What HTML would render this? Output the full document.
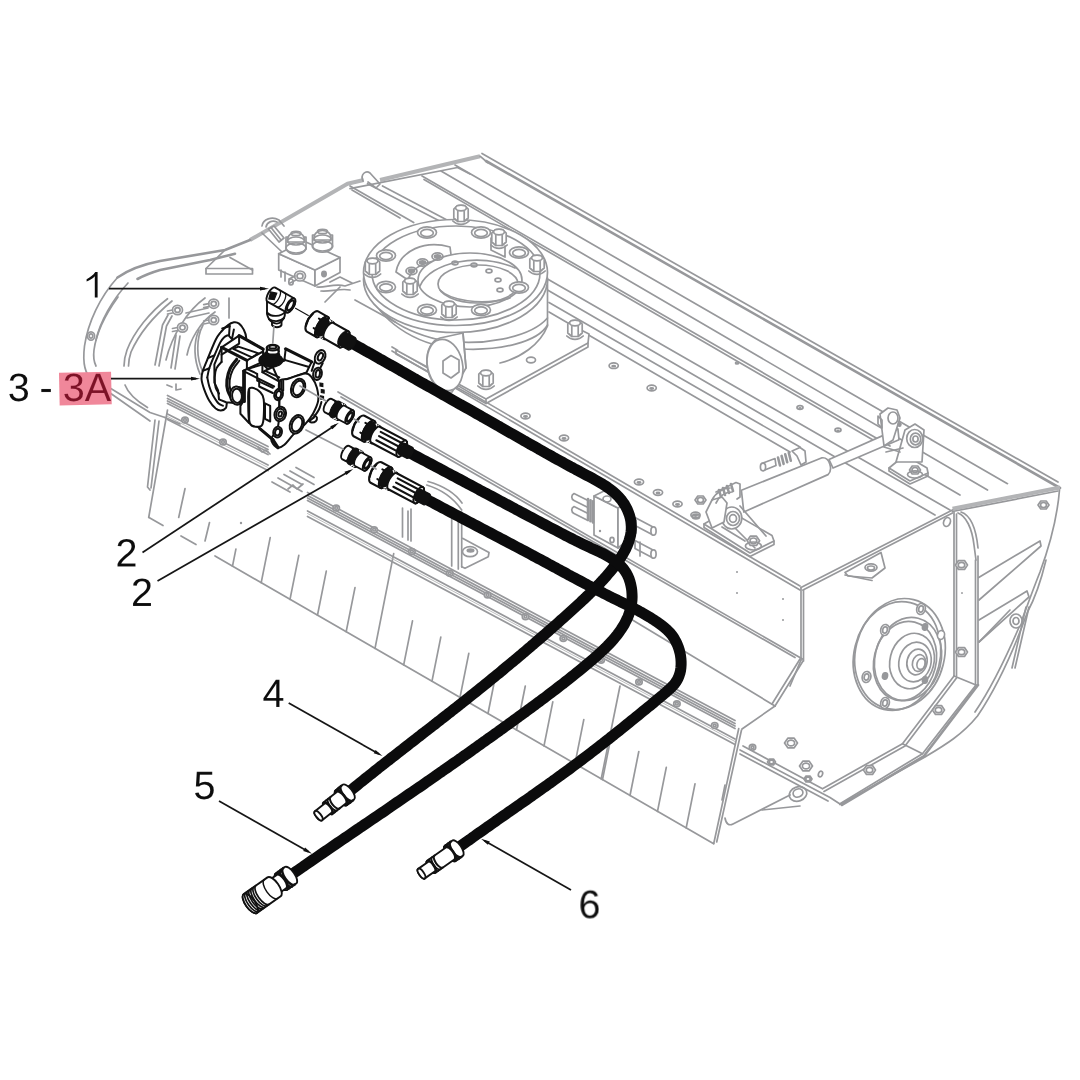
<!DOCTYPE html>
<html><head><meta charset="utf-8">
<style>
html,body{margin:0;padding:0;background:#fff;}
body{width:1080px;height:1080px;overflow:hidden;font-family:"Liberation Sans",sans-serif;}
svg{display:block;filter:blur(0.45px)}
.g{fill:none;stroke:#97989b;stroke-width:1.7;stroke-linecap:round;stroke-linejoin:round}
.g2{fill:none;stroke:#97989b;stroke-width:2.6;stroke-linecap:round;stroke-linejoin:round}
.g4{fill:none;stroke:#b3b4b6;stroke-width:4;stroke-linecap:butt;stroke-linejoin:round}
.gt{fill:none;stroke:#b4b5b7;stroke-width:0.9;stroke-linecap:round;stroke-linejoin:round}
.gw{fill:#fff;stroke:#97989b;stroke-width:1.7;stroke-linejoin:round}
.gf{fill:#97989b;stroke:none}
.k{fill:none;stroke:#111;stroke-width:1.7;stroke-linecap:round;stroke-linejoin:round}
.kw{fill:#fff;stroke:#111;stroke-width:1.7;stroke-linejoin:round}
.kf{fill:#111;stroke:#111;stroke-width:1.2}
.kwl{fill:none;stroke:#fff;stroke-width:1.2}
.k3{fill:none;stroke:#111;stroke-width:2.6;stroke-linecap:round}
.h{fill:none;stroke:#0b0b0c;stroke-width:11;stroke-linecap:butt;stroke-linejoin:round}
.l{fill:none;stroke:#161616;stroke-width:1.75}
text{font-family:"Liberation Sans",sans-serif;font-size:39.5px;fill:#0c0c0c;stroke:#fff;stroke-width:0.7px}
#labels{opacity:0.999}
#pump .k,#pump .kw{stroke-width:2}
#pump .k3{stroke-width:3.2}
#fittings .k,#fittings .kw{stroke-width:1.9}
</style></head><body>
<svg width="1080" height="1080" viewBox="0 0 1080 1080">
<rect width="1080" height="1080" fill="#fff"/>
<!-- 10_machine_a.svg -->
<g id="machA">
<path class="g" d="M482.0,153.5 L1058.0,482.0"/>
<path class="g2" d="M486.0,161.0 L1060.0,488.0"/>
<path class="g" d="M455.0,165.0 L1007.5,483.7"/>
<path class="g" d="M441.0,171.0 L987.5,490.0"/>
<path class="g" d="M422.0,176.0 L890.0,446.0"/>
<path class="g" d="M424.0,179.5 L880.0,444.0"/>
<path class="g" d="M905.0,463.0 L960.0,495.0"/>
<path class="g4" d="M250.0,240.0 L347.5,183.7 L363.7,180.0"/>
<path class="g4" d="M380.0,180.0 L480.0,156.2"/>
<path class="g" d="M350.0,188.7 L457.5,167.5 L470.0,174.0"/>
<path class="g" d="M480.0,156.2 L487.5,162.5"/>
<path class="g" d="M363,181 C360,174 366,170 370,173 L380,184 L376,188 L368,182"/>
<path class="g" d="M350.0,186.0 L413.7,222.5"/>
<path class="g" d="M367.5,183.7 L442.5,222.5"/>
<path class="g" d="M382.5,186.0 L447.0,220.0"/>
<path class="g" d="M352.0,190.0 L400.0,218.0"/>
<path class="g" d="M547.5,279.0 L950.0,510.0"/>
<path class="g" d="M547.5,290.0 L935.0,515.0"/>
<path class="g" d="M549.0,302.5 L800.0,447.0"/>
<path class="g" d="M549.0,312.0 L790.0,452.0"/>
<path class="g4" d="M952.5,508.7 L1060.0,487.5"/>
<path class="g" d="M952.5,511.5 L1058.0,491.0"/>
<path class="g" d="M1059.5,490 C1057,520 1050,545 1040,572 C1032,592 1028,604 1020,625"/>
<path class="g" d="M952.5,510.0 L801.0,587.5"/>
<path class="g" d="M952.5,513.0 L803.0,590.0"/>
<path class="g" d="M392.0,347.0 L800.0,586.0"/>
<path class="g" d="M392.0,351.0 L800.0,590.0"/>
<path class="g" d="M338.0,392.0 L802.5,659.0"/>
<path class="g" d="M341.0,397.0 L795.0,657.5"/>
<path class="g" d="M801.0,587.5 L801.0,660.0"/>
<path class="g" d="M803.5,590.0 L803.5,661.0"/>
<path class="g" d="M803.0,661.0 L775.0,706.0"/>
<path class="g" d="M800.0,659.0 L772.0,704.0"/>
<path class="g" d="M632.5,620.0 L775.0,706.0"/>
<path class="g" d="M742.0,729.0 L775.0,706.0"/>
</g>

<!-- 11_machine_b.svg -->
<g id="machB">
<path class="g" d="M954.0,512.0 L954.0,676.0"/>
<path class="g" d="M956.5,514.0 L956.5,676.0"/>
<path class="g" d="M975.5,560.0 L975.5,685.0"/>
<path class="g" d="M978.0,556.0 L978.0,685.0"/>
<path class="g" d="M958,513 C966,516 972,528 974,545 L976,560"/>
<path class="g" d="M961,512 C970,515 976,528 978,548"/>
<path class="g" d="M954.0,676.0 L902.5,743.7 L822.5,788.7"/>
<path class="g" d="M956.5,678.0 L905.0,746.0 L824.0,791.5"/>
<path class="g" d="M976.0,685.0 L922.5,753.7 L840.0,803.7"/>
<path class="g2" d="M978,685 L924,756 L842,805"/>
<path class="g" d="M954.0,676.0 L976.0,685.0"/>
<path class="g" d="M902.5,743.7 L922.5,753.7"/>
<path class="g" d="M1046,560 C1040,585 1034,600 1027.5,612 C1012,655 995,690 977.5,716 C962,735 945,745 925,757 L840,804.5"/>
<path class="g" d="M1020,625 C1005,660 990,690 975,712"/>
<path class="g" d="M978.7,577.5 L1040.0,541.0 L1041.0,546.0 L979.0,600.0"/>
<path class="g" d="M979.0,620.0 L1027.0,591.0 L1029.0,597.0 L979.0,642.0"/>
<path class="g" d="M979.0,642.0 L1010.0,610.0"/>
<path class="gw" d="M1049.0,505.0 L1046.2,509.0 L1040.8,509.0 L1038.0,505.0 L1040.8,501.0 L1046.2,501.0Z"/>
<ellipse class="g" cx="1043.5" cy="505.0" rx="3.0" ry="2.5"/>
<path class="gw" d="M962.1,593.0 L962.0,593.1 L962.0,593.1 L961.9,593.0 L962.0,592.9 L962.0,592.9Z"/>
<ellipse class="g" cx="962.0" cy="593.0" rx="0.1" ry="0.0"/>
<path class="gw" d="M967.5,565.0 L964.5,569.4 L958.5,569.4 L955.5,565.0 L958.5,560.6 L964.5,560.6Z"/>
<ellipse class="g" cx="961.5" cy="565.0" rx="3.3" ry="2.7"/>
<path class="gw" d="M967.5,652.0 L964.5,656.4 L958.5,656.4 L955.5,652.0 L958.5,647.6 L964.5,647.6Z"/>
<ellipse class="g" cx="961.5" cy="652.0" rx="3.3" ry="2.7"/>
<path class="gw" d="M944.5,710.0 L941.5,714.4 L935.5,714.4 L932.5,710.0 L935.5,705.6 L941.5,705.6Z"/>
<ellipse class="g" cx="938.5" cy="710.0" rx="3.3" ry="2.7"/>
<path class="gw" d="M875.5,770.0 L872.5,774.4 L866.5,774.4 L863.5,770.0 L866.5,765.6 L872.5,765.6Z"/>
<ellipse class="g" cx="869.5" cy="770.0" rx="3.3" ry="2.7"/>
<ellipse class="g" cx="947.0" cy="522.0" rx="3.3" ry="4.6" transform="rotate(20.0 947.0 522.0)"/>
<ellipse class="gw" cx="1016.0" cy="621.0" rx="6.0" ry="7.0"/>
<ellipse class="g" cx="1016.0" cy="621.0" rx="3.0" ry="3.5"/>
<path class="g" d="M1026.0,607.0 L1012.0,668.0"/>
<path class="g" d="M1029.0,607.0 L1015.0,668.0"/>
<ellipse class="gw" cx="900.0" cy="654.0" rx="44.5" ry="56.0" transform="rotate(14.0 900.0 654.0)"/>
<ellipse class="g" cx="897.0" cy="656.0" rx="43.0" ry="55.0" transform="rotate(14.0 897.0 656.0)"/>
<ellipse class="g" cx="908.0" cy="659.0" rx="33.0" ry="42.0" transform="rotate(14.0 908.0 659.0)"/>
<ellipse class="g" cx="905.0" cy="661.0" rx="31.0" ry="40.0" transform="rotate(14.0 905.0 661.0)"/>
<ellipse class="g" cx="912.0" cy="661.0" rx="22.0" ry="28.0" transform="rotate(14.0 912.0 661.0)"/>
<ellipse class="g" cx="915.0" cy="662.0" rx="16.0" ry="20.0" transform="rotate(14.0 915.0 662.0)"/>
<ellipse class="g" cx="917.0" cy="662.0" rx="10.0" ry="13.0" transform="rotate(14.0 917.0 662.0)"/>
<ellipse class="g" cx="919.0" cy="663.0" rx="6.5" ry="8.5" transform="rotate(14.0 919.0 663.0)"/>
<ellipse class="g" cx="921.0" cy="664.0" rx="4.0" ry="5.5" transform="rotate(14.0 921.0 664.0)"/>
<ellipse class="gw" cx="921.0" cy="609.0" rx="4.3" ry="5.5" transform="rotate(14.0 921.0 609.0)"/>
<ellipse class="g" cx="921.0" cy="609.0" rx="2.3" ry="3.2" transform="rotate(14.0 921.0 609.0)"/>
<ellipse class="gw" cx="885.0" cy="630.0" rx="4.3" ry="5.5" transform="rotate(14.0 885.0 630.0)"/>
<ellipse class="g" cx="885.0" cy="630.0" rx="2.3" ry="3.2" transform="rotate(14.0 885.0 630.0)"/>
<ellipse class="gw" cx="866.5" cy="677.0" rx="4.3" ry="5.5" transform="rotate(14.0 866.5 677.0)"/>
<ellipse class="g" cx="866.5" cy="677.0" rx="2.3" ry="3.2" transform="rotate(14.0 866.5 677.0)"/>
<ellipse class="gw" cx="885.0" cy="703.0" rx="4.3" ry="5.5" transform="rotate(14.0 885.0 703.0)"/>
<ellipse class="g" cx="885.0" cy="703.0" rx="2.3" ry="3.2" transform="rotate(14.0 885.0 703.0)"/>
<ellipse class="gf" cx="925.0" cy="627.0" rx="3.3" ry="4.0" transform="rotate(14.0 925.0 627.0)"/>
<ellipse class="gf" cx="885.0" cy="676.0" rx="3.3" ry="4.0" transform="rotate(14.0 885.0 676.0)"/>
<ellipse class="gf" cx="925.0" cy="680.0" rx="3.3" ry="4.0" transform="rotate(14.0 925.0 680.0)"/>
<ellipse class="gw" cx="941.0" cy="635.0" rx="3.5" ry="4.5" transform="rotate(14.0 941.0 635.0)"/>
<path class="g" d="M845.0,572.5 L881.0,552.5 L885.0,568.0 L872.0,578.0 L848.0,576.0Z"/>
<ellipse class="g" cx="871.0" cy="567.5" rx="6.0" ry="3.6"/>
<ellipse class="g" cx="871.0" cy="568.0" rx="3.6" ry="2.0"/>
<path class="g" d="M845.0,575.0 L872.0,580.5"/>
<path class="g" d="M801.0,660.0 L790.0,686.0"/>
<path class="gw" d="M797.5,743.0 L794.2,747.8 L787.8,747.8 L784.5,743.0 L787.8,738.2 L794.2,738.2Z"/>
<ellipse class="g" cx="791.0" cy="743.0" rx="3.6" ry="2.9"/>
<path class="gw" d="M812.5,766.0 L809.2,770.8 L802.8,770.8 L799.5,766.0 L802.8,761.2 L809.2,761.2Z"/>
<ellipse class="g" cx="806.0" cy="766.0" rx="3.6" ry="2.9"/>
<ellipse class="g" cx="820.5" cy="774.0" rx="2.0" ry="3.0" transform="rotate(20.0 820.5 774.0)"/>
<path class="g" d="M740.0,750.0 L830.0,797.5 L840.0,804.0"/>
<path class="g" d="M740.0,754.0 L828.0,801.0"/>
<path class="g" d="M743.0,746.0 L822.5,788.7"/>
<path class="gw" d="M775.5,762.0 L773.5,764.9 L769.5,764.9 L767.5,762.0 L769.5,759.1 L773.5,759.1Z"/>
<ellipse class="g" cx="771.5" cy="762.0" rx="2.2" ry="1.8"/>
<path class="gw" d="M812.0,779.0 L810.0,781.9 L806.0,781.9 L804.0,779.0 L806.0,776.1 L810.0,776.1Z"/>
<ellipse class="g" cx="808.0" cy="779.0" rx="2.2" ry="1.8"/>
<path class="g" d="M725,818 C726,824 729,826 733,824 L790,795"/>
<ellipse class="g" cx="798.0" cy="794.0" rx="9.0" ry="7.0" transform="rotate(-20.0 798.0 794.0)"/>
<ellipse class="g" cx="798.0" cy="793.0" rx="5.0" ry="4.0" transform="rotate(-20.0 798.0 793.0)"/>
<path class="g" d="M762.0,810.0 L800.0,806.0"/>
</g>

<!-- 12_machine_c.svg -->
<g id="machC">
<path class="g" d="M149.0,517.5 L163.0,525.5"/>
<path class="g" d="M181.0,536.0 L196.0,544.5"/>
<path class="g" d="M215.0,556.0 L713.7,843.7"/>
<path class="g" d="M713.7,843.7 L738.7,728.7"/>
<path class="g" d="M716.7,842.0 L741.5,730.0"/>
<path class="g" d="M722.0,800.0 L725.0,785.0"/>
<path class="g" d="M167.5,410.0 L148.7,517.5"/>
<path class="g" d="M155.0,420.0 L147.5,487.0 L150.0,490.0"/>
<path class="g" d="M159.0,421.0 L151.0,488.0"/>
<path class="g" d="M232.5,566.1 L235.9,549.1"/>
<path class="g" d="M261.2,582.7 L270.2,537.7"/>
<path class="g" d="M290.0,599.3 L298.8,555.3"/>
<path class="g" d="M317.5,615.1 L326.3,571.1"/>
<path class="g" d="M346.2,631.7 L355.0,587.7"/>
<path class="g" d="M375.0,648.3 L393.7,553.7"/>
<path class="g" d="M403.7,664.9 L412.5,620.9"/>
<path class="g" d="M432.0,681.2 L440.8,637.2"/>
<path class="g" d="M460.0,697.4 L468.8,653.4"/>
<path class="g" d="M488.0,713.5 L496.8,669.5"/>
<path class="g" d="M516.5,730.0 L525.3,686.0"/>
<path class="g" d="M544.0,745.8 L552.8,701.8"/>
<path class="g" d="M575.0,763.7 L583.8,719.7"/>
<path class="g" d="M602.5,779.6 L611.3,735.6"/>
<path class="g" d="M630.0,795.5 L638.8,751.5"/>
<path class="g" d="M657.5,811.3 L666.3,767.3"/>
<path class="g" d="M686.2,827.9 L695.0,783.9"/>
<path class="g" d="M601.2,778.8 L620.0,686.0"/>
<path class="g" d="M178.7,517.5 L185.0,488.7"/>
<path class="g" d="M205.0,541.0 L209.5,522.5"/>
<path class="g" d="M167.5,395.5 L268.0,446.5"/>
<path class="g" d="M167.5,398.5 L268.0,449.5"/>
<path class="g" d="M167.5,401.0 L268.0,452.0"/>
<path class="g" d="M167.5,403.5 L268.0,454.5"/>
<path class="g" d="M167.5,414.0 L268.0,465.0"/>
<path class="gt" d="M167.5,416.5 L268.0,467.5"/>
<path class="g" d="M167.5,419.5 L268.0,470.5"/>
<path class="g" d="M258.0,447.0 L262.0,452.0 L266.0,450.0 L270.0,454.0"/>
<path class="g" d="M307.5,492.5 L735.0,720.5"/>
<path class="g" d="M307.5,495.5 L735.0,723.5"/>
<path class="g" d="M307.5,498.0 L735.0,726.0"/>
<path class="g" d="M307.5,500.5 L735.0,728.5"/>
<path class="g" d="M307.5,511.0 L735.0,739.0"/>
<path class="gt" d="M307.5,513.5 L735.0,741.5"/>
<path class="g" d="M307.5,516.5 L735.0,744.5"/>
<ellipse class="gw" cx="185.0" cy="420.0" rx="3.2" ry="2.9"/>
<ellipse class="g" cx="185.0" cy="420.0" rx="1.4" ry="1.3"/>
<ellipse class="gw" cx="223.0" cy="442.0" rx="3.2" ry="2.9"/>
<ellipse class="g" cx="223.0" cy="442.0" rx="1.4" ry="1.3"/>
<ellipse class="gw" cx="336.2" cy="508.0" rx="3.2" ry="2.9"/>
<ellipse class="g" cx="336.2" cy="508.0" rx="1.4" ry="1.3"/>
<ellipse class="gw" cx="374.1" cy="529.7" rx="3.2" ry="2.9"/>
<ellipse class="g" cx="374.1" cy="529.7" rx="1.4" ry="1.3"/>
<ellipse class="gw" cx="411.9" cy="551.5" rx="3.2" ry="2.9"/>
<ellipse class="g" cx="411.9" cy="551.5" rx="1.4" ry="1.3"/>
<ellipse class="gw" cx="449.8" cy="573.2" rx="3.2" ry="2.9"/>
<ellipse class="g" cx="449.8" cy="573.2" rx="1.4" ry="1.3"/>
<ellipse class="gw" cx="487.6" cy="595.0" rx="3.2" ry="2.9"/>
<ellipse class="g" cx="487.6" cy="595.0" rx="1.4" ry="1.3"/>
<ellipse class="gw" cx="525.5" cy="616.7" rx="3.2" ry="2.9"/>
<ellipse class="g" cx="525.5" cy="616.7" rx="1.4" ry="1.3"/>
<ellipse class="gw" cx="563.3" cy="638.5" rx="3.2" ry="2.9"/>
<ellipse class="g" cx="563.3" cy="638.5" rx="1.4" ry="1.3"/>
<ellipse class="gw" cx="601.1" cy="660.2" rx="3.2" ry="2.9"/>
<ellipse class="g" cx="601.1" cy="660.2" rx="1.4" ry="1.3"/>
<ellipse class="gw" cx="639.0" cy="682.0" rx="3.2" ry="2.9"/>
<ellipse class="g" cx="639.0" cy="682.0" rx="1.4" ry="1.3"/>
<ellipse class="gw" cx="676.9" cy="703.7" rx="3.2" ry="2.9"/>
<ellipse class="g" cx="676.9" cy="703.7" rx="1.4" ry="1.3"/>
<ellipse class="gw" cx="714.7" cy="725.4" rx="3.2" ry="2.9"/>
<ellipse class="g" cx="714.7" cy="725.4" rx="1.4" ry="1.3"/>
<ellipse class="gw" cx="752.5" cy="747.2" rx="3.2" ry="2.9"/>
<ellipse class="g" cx="752.5" cy="747.2" rx="1.4" ry="1.3"/>
<path class="g" d="M272.0,482.0 L290.0,492.0"/>
<path class="g" d="M278.0,478.0 L302.0,491.5"/>
<path class="g" d="M284.0,474.5 L302.0,484.5"/>
<path class="g" d="M290.0,471.0 L314.0,484.5"/>
<path class="g" d="M296.0,467.5 L314.0,477.5"/>
<path class="g" d="M288.0,489.0 L293.0,485.0 L297.0,489.0 L303.0,484.0"/>
<path class="g" d="M451.7,519.0 L451.7,566.0"/>
<path class="g" d="M458.3,521.0 L458.3,569.0"/>
<path class="g" d="M461.7,512.0 L461.7,567.0"/>
<path class="g" d="M462.5,538.3 L489.0,552.5 L488.3,556.7 L465.0,568.3 L461.7,566.7"/>
<ellipse class="g" cx="470.0" cy="551.7" rx="7.5" ry="5.0"/>
<ellipse class="gf" cx="470.5" cy="550.5" rx="4.0" ry="2.2"/>
<path class="g" d="M426.7,485 C440,489 452,496 461.7,510"/>
<path class="g" d="M428,481.5 C442,485.5 455,493 462,503"/>
<path class="g" d="M402.5,508.0 L402.5,537.0"/>
<path class="g" d="M408.0,511.0 L408.0,540.0"/>
<path class="g" d="M411.0,509.0 L411.0,541.0"/>
<ellipse class="gf" cx="241.0" cy="523.0" rx="1.2" ry="1.2"/>
</g>

<!-- 13_machine_d.svg -->
<g id="machD">
<path class="gw" d="M396.0,350.0 L486.0,399.0 L588.0,343.0 L589.0,334.0 L575.0,327.0"/>
<path class="g" d="M396.0,350.0 L396.0,354.0 L486.0,403.5 L588.0,347.0 L588.0,343.0"/>
<path class="g" d="M486.0,399.0 L486.0,403.5"/>
<path class="gw" d="M364,276 C366,305 395,330 440,340 C480,347 530,338 547.5,318 L547.5,280 Z"/>
<path class="g" d="M371,296 C385,325 420,347 462,349 C500,351 538,342 547.5,325"/>
<path class="g" d="M547.5,318 L547.5,326 C540,345 520,358 500,363"/>
<path class="gw" d="M440,338 L463,333 L466,368 L452,392 C440,396 428,380 427,364 C426,350 432,340 440,338 Z"/>
<ellipse class="gw" cx="445.0" cy="365.0" rx="17.5" ry="26.0" transform="rotate(-12.0 445.0 365.0)"/>
<path class="g" d="M443.0,361.0 L451.0,355.5 L459.0,360.0 L459.0,372.0 L451.0,378.0 L443.0,373.0Z"/>
<path class="g" d="M463.0,333.0 L466.0,368.0"/>
<ellipse class="gw" cx="455.5" cy="279.5" rx="92.0" ry="53.0"/>
<ellipse class="gw" cx="455.5" cy="272.5" rx="92.0" ry="53.0"/>
<ellipse class="g" cx="456.0" cy="273.0" rx="84.0" ry="47.0"/>
<path class="gw" d="M396,272 C400,250 425,240 450,247 L452,262 C430,258 412,266 408,280 Z"/>
<ellipse class="gw" cx="470.0" cy="280.0" rx="52.0" ry="27.0"/>
<path class="g" d="M420,286 C430,262 480,252 515,268"/>
<ellipse class="g" cx="478.0" cy="284.0" rx="40.0" ry="19.0"/>
<path class="g" d="M440,290 C450,300 480,306 510,298"/>
<ellipse class="g" cx="411.5" cy="271.0" rx="5.5" ry="3.6"/>
<ellipse class="gf" cx="411.5" cy="271.0" rx="3.8" ry="2.4"/>
<ellipse class="g" cx="422.5" cy="262.5" rx="5.5" ry="3.6"/>
<ellipse class="gf" cx="422.5" cy="262.5" rx="3.8" ry="2.4"/>
<ellipse class="g" cx="437.5" cy="256.5" rx="5.5" ry="3.6"/>
<ellipse class="gf" cx="437.5" cy="256.5" rx="3.8" ry="2.4"/>
<ellipse class="g" cx="455.0" cy="263.0" rx="3.0" ry="1.8"/>
<ellipse class="g" cx="474.0" cy="265.0" rx="3.0" ry="1.8"/>
<ellipse class="g" cx="489.0" cy="271.0" rx="3.0" ry="1.8"/>
<ellipse class="g" cx="498.0" cy="280.0" rx="3.0" ry="1.8"/>
<ellipse class="g" cx="500.0" cy="290.0" rx="3.0" ry="1.8"/>
<path class="g" d="M491.0,238.0 L491.0,250.0 L505.0,257.0 L505.0,246.0"/>
<ellipse class="gw" cx="427.0" cy="232.5" rx="9.5" ry="5.6"/>
<ellipse class="g" cx="427.0" cy="233.0" rx="6.3" ry="3.6"/>
<ellipse class="gw" cx="481.0" cy="232.5" rx="9.5" ry="5.6"/>
<ellipse class="g" cx="481.0" cy="233.0" rx="6.3" ry="3.6"/>
<ellipse class="gw" cx="386.0" cy="255.5" rx="9.5" ry="5.6"/>
<ellipse class="g" cx="386.0" cy="256.0" rx="6.3" ry="3.6"/>
<ellipse class="gw" cx="386.0" cy="287.0" rx="9.5" ry="5.6"/>
<ellipse class="g" cx="386.0" cy="287.5" rx="6.3" ry="3.6"/>
<ellipse class="gw" cx="427.0" cy="310.0" rx="9.5" ry="5.6"/>
<ellipse class="g" cx="427.0" cy="310.5" rx="6.3" ry="3.6"/>
<ellipse class="gw" cx="481.0" cy="310.0" rx="9.5" ry="5.6"/>
<ellipse class="g" cx="481.0" cy="310.5" rx="6.3" ry="3.6"/>
<ellipse class="gw" cx="519.0" cy="252.5" rx="9.5" ry="5.6"/>
<ellipse class="g" cx="519.0" cy="253.0" rx="6.3" ry="3.6"/>
<ellipse class="gw" cx="519.0" cy="287.5" rx="9.5" ry="5.6"/>
<ellipse class="g" cx="519.0" cy="288.0" rx="6.3" ry="3.6"/>
<path class="gw" d="M453.8,209.0 L457.4,205.5 L464.6,205.5 L468.2,209.0 L468.2,218.0 L464.2,221.5 L457.8,221.5 L453.8,218.0Z"/>
<ellipse class="gw" cx="461.0" cy="208.0" rx="5.4" ry="2.8"/>
<path class="g" d="M457.8,211.5 L457.8,221.5"/>
<path class="g" d="M464.2,211.5 L464.2,221.5"/>
<path class="g" d="M452.8,221.0 C457.4,225.5 464.6,225.5 469.2,221.0"/>
<path class="gw" d="M491.8,233.0 L495.4,229.5 L502.6,229.5 L506.2,233.0 L506.2,242.0 L502.2,245.5 L495.8,245.5 L491.8,242.0Z"/>
<ellipse class="gw" cx="499.0" cy="232.0" rx="5.4" ry="2.8"/>
<path class="g" d="M495.8,235.5 L495.8,245.5"/>
<path class="g" d="M502.2,235.5 L502.2,245.5"/>
<path class="g" d="M490.8,245.0 C495.4,249.5 502.6,249.5 507.2,245.0"/>
<path class="gw" d="M365.3,262.0 L368.9,258.5 L376.1,258.5 L379.7,262.0 L379.7,271.0 L375.7,274.5 L369.3,274.5 L365.3,271.0Z"/>
<ellipse class="gw" cx="372.5" cy="261.0" rx="5.4" ry="2.8"/>
<path class="g" d="M369.3,264.5 L369.3,274.5"/>
<path class="g" d="M375.7,264.5 L375.7,274.5"/>
<path class="g" d="M364.3,274.0 C368.9,278.5 376.1,278.5 380.7,274.0"/>
<path class="gw" d="M402.8,282.0 L406.4,278.5 L413.6,278.5 L417.2,282.0 L417.2,291.0 L413.2,294.5 L406.8,294.5 L402.8,291.0Z"/>
<ellipse class="gw" cx="410.0" cy="281.0" rx="5.4" ry="2.8"/>
<path class="g" d="M406.8,284.5 L406.8,294.5"/>
<path class="g" d="M413.2,284.5 L413.2,294.5"/>
<path class="g" d="M401.8,294.0 C406.4,298.5 413.6,298.5 418.2,294.0"/>
<path class="gw" d="M441.8,305.0 L445.4,301.5 L452.6,301.5 L456.2,305.0 L456.2,314.0 L452.2,317.5 L445.8,317.5 L441.8,314.0Z"/>
<ellipse class="gw" cx="449.0" cy="304.0" rx="5.4" ry="2.8"/>
<path class="g" d="M445.8,307.5 L445.8,317.5"/>
<path class="g" d="M452.2,307.5 L452.2,317.5"/>
<path class="g" d="M440.8,317.0 C445.4,321.5 452.6,321.5 457.2,317.0"/>
<path class="gw" d="M529.8,259.0 L533.4,255.5 L540.6,255.5 L544.2,259.0 L544.2,268.0 L540.2,271.5 L533.8,271.5 L529.8,268.0Z"/>
<ellipse class="gw" cx="537.0" cy="258.0" rx="5.4" ry="2.8"/>
<path class="g" d="M533.8,261.5 L533.8,271.5"/>
<path class="g" d="M540.2,261.5 L540.2,271.5"/>
<path class="g" d="M528.8,271.0 C533.4,275.5 540.6,275.5 545.2,271.0"/>
<path class="gw" d="M478.8,374.0 L482.4,370.5 L489.6,370.5 L493.2,374.0 L493.2,383.0 L489.2,386.5 L482.8,386.5 L478.8,383.0Z"/>
<ellipse class="gw" cx="486.0" cy="373.0" rx="5.4" ry="2.8"/>
<path class="g" d="M482.8,376.5 L482.8,386.5"/>
<path class="g" d="M489.2,376.5 L489.2,386.5"/>
<path class="g" d="M477.8,386.0 C482.4,390.5 489.6,390.5 494.2,386.0"/>
<path class="gw" d="M567.8,324.0 L571.4,320.5 L578.6,320.5 L582.2,324.0 L582.2,333.0 L578.2,336.5 L571.8,336.5 L567.8,333.0Z"/>
<ellipse class="gw" cx="575.0" cy="323.0" rx="5.4" ry="2.8"/>
<path class="g" d="M571.8,326.5 L571.8,336.5"/>
<path class="g" d="M578.2,326.5 L578.2,336.5"/>
<path class="g" d="M566.8,336.0 C571.4,340.5 578.6,340.5 583.2,336.0"/>
<ellipse class="g" cx="531.0" cy="360.0" rx="4.5" ry="2.8"/>
<ellipse class="g" cx="525.5" cy="416.0" rx="4.6" ry="2.8"/>
<ellipse class="gf" cx="525.5" cy="416.5" rx="2.5" ry="1.4"/>
<ellipse class="g" cx="613.7" cy="365.7" rx="4.6" ry="2.8"/>
<ellipse class="gf" cx="613.7" cy="366.2" rx="2.5" ry="1.4"/>
<ellipse class="g" cx="651.7" cy="388.0" rx="4.6" ry="2.8"/>
<ellipse class="gf" cx="651.7" cy="388.5" rx="2.5" ry="1.4"/>
<ellipse class="g" cx="564.0" cy="438.0" rx="4.6" ry="2.8"/>
<ellipse class="gf" cx="564.0" cy="438.5" rx="2.5" ry="1.4"/>
<ellipse class="g" cx="639.0" cy="482.0" rx="4.6" ry="2.8"/>
<ellipse class="gf" cx="639.0" cy="482.5" rx="2.5" ry="1.4"/>
<ellipse class="g" cx="658.0" cy="492.5" rx="4.6" ry="2.8"/>
<ellipse class="gf" cx="658.0" cy="493.0" rx="2.5" ry="1.4"/>
<ellipse class="g" cx="677.5" cy="504.0" rx="4.6" ry="2.8"/>
<ellipse class="gf" cx="677.5" cy="504.5" rx="2.5" ry="1.4"/>
<ellipse class="g" cx="695.5" cy="515.0" rx="4.6" ry="2.8"/>
<ellipse class="gf" cx="695.5" cy="515.5" rx="2.5" ry="1.4"/>
<ellipse class="g" cx="800.0" cy="407.5" rx="3.0" ry="1.8"/>
<ellipse class="gf" cx="800.0" cy="408.0" rx="1.7" ry="0.9"/>
<ellipse class="g" cx="838.0" cy="430.0" rx="3.0" ry="1.8"/>
<ellipse class="gf" cx="838.0" cy="430.5" rx="1.7" ry="0.9"/>
<ellipse class="g" cx="737.0" cy="363.0" rx="1.5" ry="1.0"/>
<ellipse class="gf" cx="737.0" cy="363.5" rx="0.8" ry="0.5"/>
<ellipse class="gf" cx="737.0" cy="572.0" rx="1.0" ry="1.0"/>
<ellipse class="gf" cx="737.0" cy="593.0" rx="1.0" ry="1.0"/>
<ellipse class="gf" cx="783.0" cy="599.0" rx="1.0" ry="1.0"/>
<ellipse class="gf" cx="783.0" cy="620.0" rx="1.0" ry="1.0"/>
</g>

<!-- 14_machine_e.svg -->
<g id="machE">
<path class="g2" d="M250,240 L225,250 L160,261 C145,264 128,270 117.5,277.5"/>
<path class="g2" d="M235,253.7 L210,260 L160,270 C150,273 143,276 137.5,279"/>
<path class="g" d="M117.5,277.5 C100,297 88,322 84.5,346 C82.5,362 85,375 93,381 C98,386 104,388 110,388 L150,412.5 L165,417.5"/>
<path class="g" d="M118,297 C105,315 96,335 94,350 C93,358 94,362 96,366"/>
<path class="g" d="M128,283 C112,300 100,322 96,340"/>
<ellipse class="gw" cx="91.0" cy="336.0" rx="3.6" ry="4.2"/>
<ellipse class="g" cx="91.0" cy="336.0" rx="1.8" ry="2.1"/>
<path class="g" d="M167.5,298.7 C150,312 134,332 127,350 C124.5,357 124,362 124,366"/>
<path class="g" d="M172,301 C155,315 139,334 131,352 C129,358 128.5,362 128.5,366"/>
<path class="g" d="M125,385 C128,393 135,400 147.5,407.5"/>
<path class="g" d="M205,298 C188,310 172,335 166,360"/>
<path class="g" d="M215,312 C200,322 190,340 187,355"/>
<path class="g" d="M203,325 C196,338 196,358 203,372"/>
<path class="g" d="M199,330 C193,343 194,360 200,374"/>
<path class="g" d="M206.0,268.5 L252.5,268.5 L252.5,274.0 L206.0,274.0Z"/>
<path class="g" d="M225.0,250.0 L206.0,268.5"/>
<path class="g" d="M230.0,257.5 L252.5,270.0"/>
<path class="g" d="M262.0,233.0 L282.0,252.0"/>
<ellipse class="gw" cx="177.5" cy="310.0" rx="5.0" ry="4.6"/>
<ellipse class="g" cx="177.5" cy="310.0" rx="2.6" ry="2.4"/>
<path class="g" d="M167.5,311.0 L172.5,310.0"/>
<path class="g" d="M167.5,314.0 L172.5,313.0"/>
<ellipse class="gw" cx="213.7" cy="303.7" rx="5.0" ry="4.6"/>
<ellipse class="g" cx="213.7" cy="303.7" rx="2.6" ry="2.4"/>
<path class="g" d="M203.7,304.7 L208.7,303.7"/>
<path class="g" d="M203.7,307.7 L208.7,306.7"/>
<ellipse class="gw" cx="182.5" cy="327.5" rx="5.0" ry="4.6"/>
<ellipse class="g" cx="182.5" cy="327.5" rx="2.6" ry="2.4"/>
<path class="g" d="M172.5,328.5 L177.5,327.5"/>
<path class="g" d="M172.5,331.5 L177.5,330.5"/>
<ellipse class="gw" cx="213.7" cy="320.0" rx="5.0" ry="4.6"/>
<ellipse class="g" cx="213.7" cy="320.0" rx="2.6" ry="2.4"/>
<path class="g" d="M203.7,321.0 L208.7,320.0"/>
<path class="g" d="M203.7,324.0 L208.7,323.0"/>
<path class="g" d="M168.0,315.0 L162.5,325.0 L155.0,365.0"/>
<path class="g" d="M172.0,316.0 L166.5,326.0 L159.0,366.0"/>
<path class="g" d="M186.0,313.0 L208.0,308.0"/>
<path class="g" d="M187.0,318.0 L209.0,313.0"/>
<path class="g" d="M176.0,335.0 L171.0,368.0"/>
<path class="g" d="M180.0,336.0 L175.0,369.0"/>
<path class="g" d="M229.0,298.0 L229.0,318.0"/>
<path class="g" d="M167,385 L172,387 M176,384 L176,390 L181,389"/>
<path class="g" d="M165.0,417.5 L180.0,424.0"/>
<path class="g" d="M93.0,381.0 L150.0,421.0"/>
<path class="gw" d="M278.7,253.7 L315.0,270.0 L315.0,286.0 L278.7,270.0Z"/>
<path class="gw" d="M315.0,270.0 L340.0,257.5 L340.0,272.5 L315.0,286.0Z"/>
<path class="gw" d="M278.7,253.7 L303.7,241.0 L340.0,257.5 L315.0,270.0Z"/>
<path class="gw" d="M286.0,237.0 L286.0,249.0 C290.0,256.0 302.0,256.0 306.0,249.0 L306.0,237.0 Z"/>
<ellipse class="g" cx="296.0" cy="248.0" rx="10.0" ry="5.0"/>
<path class="gw" d="M287.5,240.0 C287.5,230.0 304.5,230.0 304.5,240.0 L304.5,242.0 L287.5,242.0 Z"/>
<ellipse class="g" cx="296.0" cy="241.0" rx="8.5" ry="4.0"/>
<ellipse class="g" cx="296.0" cy="233.5" rx="5.0" ry="2.2"/>
<path class="gw" d="M312.5,235.0 L312.5,247.0 C316.5,254.0 328.5,254.0 332.5,247.0 L332.5,235.0 Z"/>
<ellipse class="g" cx="322.5" cy="246.0" rx="10.0" ry="5.0"/>
<path class="gw" d="M314.0,238.0 C314.0,228.0 331.0,228.0 331.0,238.0 L331.0,240.0 L314.0,240.0 Z"/>
<ellipse class="g" cx="322.5" cy="239.0" rx="8.5" ry="4.0"/>
<ellipse class="g" cx="322.5" cy="231.5" rx="5.0" ry="2.2"/>
<path class="gw" d="M268.5,229.0 L274.0,226.0 L284.0,238.0 L279.0,242.0Z"/>
<path class="g" d="M271.0,227.5 L281.0,240.0"/>
<path class="g" d="M262,226 C263,219 272,216 279,220 L284,226"/>
<path class="g" d="M266,227 C267,222 272,220 277,222"/>
<ellipse class="gw" cx="300.0" cy="276.0" rx="5.5" ry="5.0"/>
<ellipse class="g" cx="300.0" cy="276.0" rx="3.0" ry="2.7"/>
<path class="g" d="M289.0,279.0 L295.0,276.0"/>
<path class="g" d="M290.0,283.0 L296.0,280.0"/>
<ellipse class="g" cx="291.0" cy="282.0" rx="2.2" ry="3.0"/>
<ellipse class="gf" cx="324.0" cy="274.0" rx="3.0" ry="3.4"/>
<path class="g" d="M281.0,270.0 L281.0,277.0"/>
<path class="g" d="M285.0,272.0 L285.0,281.0"/>
<path class="g" d="M317,287 C325,288 335,283 345,286 L360,281"/>
<path class="g" d="M321,291 C330,292 340,288 350,290"/>
<path class="g" d="M330,282 L340,277 L352,283"/>
<path class="g" d="M355.0,300.0 L395.0,322.0"/>
<path class="g" d="M340.0,287.0 L325.0,302.0"/>
</g>

<!-- 15_machine_f.svg -->
<g id="machF">
<path class="gw" d="M704.0,524.0 L750.0,553.0 L774.0,541.0 L772.0,535.5 L728.0,510.0Z"/>
<path class="g" d="M704.0,524.0 L704.0,527.5 L750.0,556.5 L774.0,544.5 L774.0,541.0"/>
<path class="gw" d="M741.4,490.3 L822,457.8 C830,457 833,470 828,474.6 L743.8,512 Z"/>
<path class="gw" d="M829.0,459.5 L897.9,428.9 L899.0,439.7 L833.0,468.0Z"/>
<path class="g" d="M735.0,528.0 L755.0,548.0"/>
<path class="g" d="M740.0,506.0 L766.0,536.0"/>
<path class="g" d="M722.0,527.0 L745.0,541.0"/>
<ellipse class="gw" cx="731.8" cy="518.0" rx="10.0" ry="11.0"/>
<ellipse class="gw" cx="733.0" cy="518.5" rx="6.5" ry="7.0"/>
<ellipse class="g" cx="733.0" cy="518.5" rx="3.5" ry="3.8"/>
<path class="gw" d="M706.0,512.0 L712.0,500.0 L722.0,497.0 L727.0,503.0 L724.0,522.0 L712.0,528.0Z"/>
<path class="gw" d="M706.0,500.0 L703.2,504.0 L697.8,504.0 L695.0,500.0 L697.8,496.0 L703.2,496.0Z"/>
<ellipse class="g" cx="700.5" cy="500.0" rx="3.0" ry="2.5"/>
<ellipse class="g" cx="696.0" cy="516.5" rx="3.6" ry="2.4"/>
<path class="g" d="M712,500 C716,492 724,488 730,488"/>
<path class="g" d="M716,503 C720,495 726,492 732,492"/>
<path class="g" d="M716.0,492.0 L736.0,482.5 L740.0,484.0 L740.0,497.0 L737.0,499.0"/>
<path class="g2" d="M719.0,490.0 L721.0,497.0"/>
<path class="g2" d="M723.0,488.0 L725.0,495.0"/>
<path class="g2" d="M727.0,486.0 L729.0,493.0"/>
<path class="g2" d="M731.0,484.0 L733.0,491.0"/>
<path class="gw" d="M759.6,540.8 L756.5,545.4 L750.3,545.4 L747.2,540.8 L750.3,536.2 L756.5,536.2Z"/>
<ellipse class="g" cx="753.4" cy="540.8" rx="3.4" ry="2.8"/>
<ellipse class="g" cx="753.4" cy="546.0" rx="8.0" ry="4.0"/>
<path class="gw" d="M763,463 C760,463 760,470 763.5,470.5 L776,465.5 L775,458.5 Z"/>
<ellipse class="gw" cx="763.0" cy="467.0" rx="2.6" ry="3.8"/>
<path class="g2" d="M778.0,457.5 L780.0,465.5"/>
<path class="g2" d="M781.6,455.9 L783.6,463.9"/>
<path class="g2" d="M785.2,454.3 L787.2,462.3"/>
<path class="g2" d="M788.8,452.7 L790.8,460.7"/>
<path class="gw" d="M792.0,451.0 L800.0,447.5 L805.0,451.0 L806.0,462.0 L801.0,465.0 L797.0,456.0Z"/>
<path class="gw" d="M889.0,468.0 L910.0,481.0 L928.0,473.0 L927.0,468.0 L905.0,455.0Z"/>
<path class="g" d="M889.0,468.0 L889.0,471.0 L910.0,484.0 L928.0,476.0 L928.0,473.0"/>
<path class="gw" d="M896.0,462.0 L905.0,430.0 L915.0,424.0 L924.0,430.0 L922.0,462.0Z"/>
<ellipse class="gw" cx="914.7" cy="438.5" rx="8.0" ry="9.0"/>
<ellipse class="gw" cx="915.5" cy="439.0" rx="5.2" ry="5.8"/>
<ellipse class="g" cx="915.5" cy="439.0" rx="2.6" ry="3.0"/>
<path class="gw" d="M880.0,414.0 L888.0,408.0 L897.0,410.0 L900.0,418.0 L893.0,440.0 L884.0,446.0Z"/>
<ellipse class="g" cx="893.0" cy="418.0" rx="5.0" ry="6.0"/>
<ellipse class="gf" cx="899.5" cy="424.5" rx="2.2" ry="2.6"/>
<path class="g" d="M878.0,416.0 L882.0,420.0 L882.0,428.0 L878.0,424.0Z"/>
<path class="gw" d="M920.5,470.0 L917.8,474.0 L912.2,474.0 L909.5,470.0 L912.2,466.0 L917.8,466.0Z"/>
<ellipse class="g" cx="915.0" cy="470.0" rx="3.0" ry="2.5"/>
<ellipse class="g" cx="915.0" cy="474.5" rx="7.5" ry="3.6"/>
<path class="g" d="M884.0,447.0 L900.0,452.0"/>
<path class="g" d="M886.0,452.0 L903.0,448.0"/>
<path class="gw" d="M594.0,496.0 L618.0,508.0 L618.0,548.0 L594.0,535.0Z"/>
<path class="gw" d="M594.0,496.0 L604.0,491.0 L628.0,503.0 L618.0,508.0Z"/>
<path class="gw" d="M618.0,508.0 L628.0,503.0 L628.0,540.0 L618.0,548.0Z"/>
<path class="gw" d="M574.0,493.5 L588.0,500.5 L588.0,507.5 L574.0,500.5 C571.0,499.0 571.0,495.0 574.0,493.5 Z"/>
<path class="gw" d="M574.0,506.5 L588.0,513.5 L588.0,520.5 L574.0,513.5 C571.0,512.0 571.0,508.0 574.0,506.5 Z"/>
<path class="g2" d="M588.0,499.0 L588.0,520.0"/>
<path class="g2" d="M590.5,500.2 L590.5,521.2"/>
<path class="g2" d="M593.0,501.4 L593.0,522.4"/>
<path class="gw" d="M635.0,517.5 L653.0,527.0 L653.0,535.0 L635.0,525.5 Z"/>
<ellipse class="gw" cx="653.5" cy="531.0" rx="2.6" ry="4.2"/>
<path class="gw" d="M635.0,540.5 L653.0,550.0 L653.0,558.0 L635.0,548.5 Z"/>
<ellipse class="gw" cx="653.5" cy="554.0" rx="2.6" ry="4.2"/>
<path class="g" d="M636.0,520.0 L636.0,533.0"/>
<path class="g" d="M640.0,542.0 L640.0,556.0"/>
<ellipse class="g" cx="607.0" cy="499.0" rx="4.0" ry="3.0"/>
<ellipse class="g" cx="612.0" cy="540.0" rx="2.0" ry="2.6"/>
<ellipse class="gf" cx="600.0" cy="531.0" rx="1.2" ry="1.2"/>
<ellipse class="g" cx="608.0" cy="556.0" rx="6.0" ry="3.0"/>
</g>

<!-- 50_hoses.svg -->
<g id="hoses" class="h">
<path d="M343.0,338.0 L345.6,339.5 L348.2,341.0 L350.9,342.5 L353.5,343.9 L356.1,345.4 L358.7,346.9 L361.4,348.4 L364.0,349.9 L366.6,351.4 L369.2,352.8 L371.8,354.3 L374.4,355.8 L377.0,357.3 L379.6,358.8 L382.2,360.2 L384.9,361.7 L387.5,363.2 L390.1,364.7 L392.7,366.1 L395.3,367.6 L397.9,369.1 L400.5,370.6 L403.1,372.0 L405.7,373.5 L408.3,375.0 L410.9,376.5 L413.5,378.0 L416.1,379.4 L418.7,380.9 L421.3,382.4 L424.0,383.9 L426.6,385.4 L429.2,386.8 L431.8,388.3 L434.4,389.8 L437.1,391.3 L439.7,392.8 L442.3,394.3 L444.9,395.7 L447.6,397.2 L450.2,398.7 L452.8,400.2 L455.5,401.7 L458.1,403.2 L460.7,404.7 L463.3,406.1 L466.0,407.6 L468.6,409.1 L471.2,410.6 L473.8,412.1 L476.5,413.6 L479.1,415.1 L481.7,416.6 L484.3,418.0 L486.9,419.5 L489.6,421.0 L492.2,422.5 L494.8,424.0 L497.4,425.5 L500.0,426.9 L502.6,428.4 L505.2,429.9 L507.8,431.4 L510.4,432.9 L512.9,434.3 L515.5,435.8 L518.1,437.3 L520.7,438.8 L523.3,440.3 L525.9,441.7 L528.5,443.2 L531.0,444.7 L533.6,446.1 L536.2,447.6 L538.8,449.1 L541.4,450.5 L544.0,452.0 L546.6,453.5 L549.2,454.9 L551.9,456.4 L554.5,457.9 L557.1,459.3 L559.8,460.8 L562.4,462.2 L565.1,463.7 L567.7,465.1 L570.4,466.6 L573.1,468.0 L575.8,469.5 L578.5,470.9 L581.2,472.4 L583.9,473.8 L586.7,475.3 L589.4,476.7 L592.2,478.2 L594.9,479.7 L597.6,481.2 L600.2,482.7 L602.9,484.3 L605.4,485.9 L607.9,487.6 L610.4,489.4 L612.7,491.3 L615.0,493.2 L617.1,495.2 L619.1,497.3 L621.1,499.6 L622.8,501.9 L624.5,504.3 L625.9,506.9 L627.3,509.6 L628.4,512.3 L629.4,515.1 L630.2,517.9 L630.8,520.8 L631.1,523.7 L631.3,526.6 L631.3,529.4 L631.0,532.2 L630.6,535.1 L629.9,537.8 L629.1,540.6 L628.1,543.4 L627.0,546.1 L625.8,548.8 L624.4,551.4 L622.9,554.1 L621.3,556.7 L619.6,559.3 L617.8,561.8 L616.0,564.3 L614.1,566.8 L612.1,569.3 L610.1,571.7 L608.1,574.0 L606.1,576.4 L604.1,578.7 L602.0,580.9 L599.9,583.2 L597.8,585.4 L595.7,587.5 L593.6,589.7 L591.5,591.8 L589.4,593.9 L587.2,596.0 L585.1,598.1 L582.9,600.1 L580.7,602.2 L578.5,604.2 L576.3,606.2 L574.1,608.2 L571.9,610.2 L569.7,612.2 L567.5,614.2 L565.3,616.2 L563.1,618.2 L560.8,620.2 L558.6,622.2 L556.4,624.2 L554.1,626.2 L551.9,628.2 L549.6,630.1 L547.4,632.1 L545.1,634.1 L542.9,636.0 L540.6,638.0 L538.3,640.0 L536.1,641.9 L533.8,643.9 L531.5,645.8 L529.2,647.8 L526.9,649.7 L524.7,651.7 L522.4,653.6 L520.1,655.6 L517.8,657.5 L515.5,659.4 L513.2,661.4 L510.8,663.3 L508.5,665.2 L506.2,667.1 L503.9,669.0 L501.6,671.0 L499.3,672.9 L496.9,674.8 L494.6,676.7 L492.3,678.6 L489.9,680.5 L487.6,682.4 L485.3,684.3 L482.9,686.2 L480.6,688.1 L478.2,690.0 L475.9,691.8 L473.5,693.7 L471.2,695.6 L468.8,697.5 L466.5,699.3 L464.1,701.2 L461.8,703.1 L459.4,704.9 L457.1,706.8 L454.7,708.6 L452.3,710.5 L450.0,712.4 L447.6,714.2 L445.2,716.1 L442.9,717.9 L440.5,719.8 L438.1,721.6 L435.8,723.5 L433.4,725.3 L431.0,727.2 L428.7,729.0 L426.3,730.8 L423.9,732.7 L421.5,734.5 L419.2,736.4 L416.8,738.2 L414.4,740.1 L412.1,741.9 L409.7,743.7 L407.3,745.6 L405.0,747.4 L402.6,749.3 L400.2,751.1 L397.8,753.0 L395.5,754.8 L393.1,756.7 L390.7,758.5 L388.4,760.4 L386.0,762.2 L383.7,764.1 L381.3,765.9 L378.9,767.8 L376.6,769.7 L374.2,771.5 L371.9,773.4 L369.5,775.3 L367.2,777.2 L364.8,779.0 L362.5,780.9 L360.1,782.8 L357.8,784.7 L355.4,786.6 L353.1,788.5 L350.8,790.3 L348.4,792.2 L346.1,794.2"/>
<path d="M399.0,447.3 L401.6,448.7 L404.3,450.1 L407.0,451.4 L409.6,452.8 L412.3,454.2 L414.9,455.6 L417.6,457.0 L420.2,458.4 L422.9,459.8 L425.6,461.2 L428.2,462.6 L430.9,464.0 L433.5,465.4 L436.2,466.8 L438.8,468.2 L441.5,469.6 L444.2,471.1 L446.8,472.5 L449.5,473.9 L452.1,475.3 L454.8,476.7 L457.4,478.1 L460.1,479.5 L462.7,480.9 L465.4,482.4 L468.1,483.8 L470.7,485.2 L473.4,486.6 L476.0,488.0 L478.7,489.4 L481.3,490.9 L484.0,492.3 L486.6,493.7 L489.3,495.1 L492.0,496.5 L494.6,497.9 L497.3,499.4 L499.9,500.8 L502.6,502.2 L505.2,503.6 L507.9,505.0 L510.5,506.4 L513.2,507.8 L515.8,509.3 L518.5,510.7 L521.1,512.1 L523.8,513.5 L526.4,514.9 L529.1,516.3 L531.7,517.7 L534.4,519.1 L537.0,520.5 L539.7,521.9 L542.3,523.3 L544.9,524.7 L547.6,526.1 L550.2,527.5 L552.9,528.9 L555.5,530.2 L558.2,531.6 L560.8,533.0 L563.5,534.4 L566.1,535.8 L568.8,537.1 L571.5,538.5 L574.2,539.9 L576.9,541.2 L579.6,542.6 L582.4,543.9 L585.2,545.2 L588.0,546.5 L590.8,547.9 L593.7,549.2 L596.5,550.5 L599.4,551.9 L602.2,553.2 L605.0,554.7 L607.7,556.2 L610.3,557.7 L612.8,559.4 L615.3,561.1 L617.6,562.9 L619.7,564.8 L621.8,566.9 L623.6,569.1 L625.3,571.4 L626.8,573.9 L628.1,576.5 L629.2,579.2 L630.1,582.0 L630.8,584.9 L631.4,587.8 L631.8,590.8 L632.0,593.8 L632.1,596.8 L632.0,599.7 L631.7,602.7 L631.2,605.6 L630.6,608.4 L629.9,611.2 L629.0,614.0 L628.0,616.7 L626.8,619.3 L625.5,621.9 L624.2,624.5 L622.6,627.0 L621.0,629.5 L619.3,632.0 L617.5,634.4 L615.6,636.7 L613.7,639.1 L611.7,641.4 L609.6,643.6 L607.4,645.9 L605.2,648.1 L602.9,650.2 L600.6,652.4 L598.3,654.5 L596.0,656.6 L593.6,658.7 L591.2,660.7 L588.8,662.7 L586.4,664.7 L584.0,666.7 L581.6,668.7 L579.2,670.7 L576.9,672.6 L574.5,674.5 L572.1,676.4 L569.8,678.3 L567.4,680.2 L565.0,682.0 L562.7,683.9 L560.3,685.7 L557.9,687.5 L555.6,689.3 L553.2,691.1 L550.9,692.9 L548.5,694.7 L546.2,696.5 L543.8,698.3 L541.4,700.0 L539.1,701.8 L536.7,703.5 L534.4,705.3 L532.0,707.0 L529.6,708.8 L527.2,710.5 L524.9,712.3 L522.5,714.0 L520.1,715.7 L517.7,717.5 L515.3,719.2 L512.9,721.0 L510.5,722.7 L508.1,724.5 L505.6,726.2 L503.2,728.0 L500.8,729.7 L498.4,731.5 L495.9,733.2 L493.5,735.0 L491.1,736.7 L488.6,738.4 L486.2,740.2 L483.7,741.9 L481.3,743.7 L478.8,745.4 L476.4,747.2 L473.9,748.9 L471.4,750.7 L469.0,752.4 L466.5,754.2 L464.0,755.9 L461.6,757.7 L459.1,759.4 L456.6,761.2 L454.1,762.9 L451.6,764.6 L449.2,766.4 L446.7,768.1 L444.2,769.8 L441.7,771.6 L439.2,773.3 L436.8,775.0 L434.3,776.8 L431.8,778.5 L429.3,780.2 L426.8,781.9 L424.3,783.7 L421.9,785.4 L419.4,787.1 L416.9,788.8 L414.4,790.5 L411.9,792.2 L409.4,793.9 L407.0,795.6 L404.5,797.3 L402.0,799.0 L399.5,800.7 L397.0,802.4 L394.6,804.1 L392.1,805.8 L389.6,807.5 L387.1,809.2 L384.7,810.9 L382.2,812.6 L379.7,814.3 L377.2,816.0 L374.8,817.6 L372.3,819.3 L369.8,821.0 L367.3,822.7 L364.8,824.4 L362.4,826.1 L359.9,827.7 L357.4,829.4 L354.9,831.1 L352.5,832.8 L350.0,834.5 L347.5,836.2 L345.0,837.9 L342.6,839.5 L340.1,841.2 L337.6,842.9 L335.1,844.6 L332.7,846.3 L330.2,848.0 L327.7,849.7 L325.2,851.4 L322.7,853.1 L320.3,854.8 L317.8,856.5 L315.3,858.2 L312.8,859.9 L310.3,861.6 L307.9,863.3 L305.4,865.0 L302.9,866.8 L300.4,868.5 L297.9,870.2 L295.4,871.9 L292.9,873.7 L290.5,875.4 L288.0,877.1"/>
<path d="M416.1,493.6 L418.7,495.1 L421.3,496.5 L424.0,497.9 L426.6,499.3 L429.2,500.8 L431.9,502.2 L434.5,503.6 L437.2,505.0 L439.8,506.4 L442.4,507.8 L445.1,509.2 L447.7,510.6 L450.4,512.0 L453.0,513.4 L455.7,514.8 L458.4,516.2 L461.0,517.6 L463.7,519.0 L466.3,520.4 L469.0,521.8 L471.6,523.2 L474.3,524.6 L477.0,526.0 L479.6,527.4 L482.3,528.8 L484.9,530.2 L487.6,531.6 L490.3,533.0 L492.9,534.4 L495.6,535.8 L498.2,537.2 L500.9,538.6 L503.6,540.0 L506.2,541.4 L508.9,542.8 L511.5,544.2 L514.2,545.6 L516.8,547.0 L519.5,548.4 L522.2,549.8 L524.8,551.2 L527.5,552.6 L530.1,554.0 L532.7,555.5 L535.4,556.9 L538.0,558.3 L540.7,559.7 L543.3,561.1 L546.0,562.5 L548.6,564.0 L551.2,565.4 L553.8,566.8 L556.5,568.2 L559.1,569.7 L561.7,571.1 L564.4,572.5 L567.0,573.9 L569.6,575.4 L572.3,576.8 L574.9,578.2 L577.5,579.6 L580.2,581.0 L582.8,582.4 L585.5,583.8 L588.1,585.3 L590.8,586.7 L593.4,588.0 L596.1,589.4 L598.8,590.8 L601.5,592.2 L604.1,593.6 L606.8,594.9 L609.5,596.3 L612.2,597.7 L615.0,599.0 L617.7,600.3 L620.4,601.7 L623.1,603.0 L625.9,604.4 L628.6,605.7 L631.3,607.1 L634.0,608.4 L636.7,609.8 L639.3,611.3 L642.0,612.7 L644.6,614.2 L647.1,615.7 L649.7,617.2 L652.2,618.8 L654.7,620.4 L657.1,622.1 L659.5,623.8 L661.9,625.5 L664.1,627.3 L666.4,629.2 L668.5,631.3 L670.5,633.4 L672.3,635.7 L674.0,638.2 L675.5,640.9 L676.9,643.6 L678.1,646.5 L679.1,649.5 L679.9,652.5 L680.5,655.5 L680.9,658.6 L681.1,661.7 L681.1,664.7 L680.9,667.7 L680.5,670.7 L679.8,673.6 L678.9,676.3 L677.7,679.0 L676.3,681.4 L674.7,683.8 L672.8,685.9 L670.8,688.0 L668.6,689.9 L666.4,691.9 L664.1,693.8 L661.8,695.8 L659.5,697.7 L657.2,699.6 L654.9,701.5 L652.6,703.5 L650.3,705.4 L647.9,707.3 L645.6,709.2 L643.3,711.1 L640.9,713.0 L638.6,714.9 L636.3,716.8 L633.9,718.7 L631.6,720.6 L629.3,722.5 L626.9,724.4 L624.6,726.3 L622.2,728.2 L619.9,730.1 L617.6,731.9 L615.2,733.8 L612.9,735.7 L610.5,737.5 L608.2,739.4 L605.8,741.2 L603.5,743.1 L601.1,744.9 L598.7,746.8 L596.4,748.6 L594.0,750.4 L591.6,752.3 L589.3,754.1 L586.9,755.9 L584.5,757.7 L582.1,759.5 L579.7,761.3 L577.3,763.1 L574.9,764.9 L572.5,766.7 L570.1,768.5 L567.7,770.3 L565.3,772.0 L562.8,773.8 L560.4,775.6 L558.0,777.3 L555.5,779.1 L553.1,780.8 L550.7,782.6 L548.2,784.3 L545.8,786.1 L543.3,787.8 L540.9,789.5 L538.4,791.3 L536.0,793.0 L533.5,794.7 L531.1,796.5 L528.6,798.2 L526.2,799.9 L523.7,801.6 L521.3,803.3 L518.8,805.1 L516.3,806.8 L513.9,808.5 L511.4,810.2 L508.9,811.9 L506.5,813.7 L504.0,815.4 L501.6,817.1 L499.1,818.8 L496.6,820.5 L494.2,822.3 L491.7,824.0 L489.3,825.7 L486.8,827.4 L484.3,829.2 L481.9,830.9 L479.4,832.6 L477.0,834.3 L474.5,836.1 L472.1,837.8 L469.7,839.6 L467.2,841.3 L464.8,843.0 L462.3,844.8 L459.9,846.5 L457.5,848.3 L455.1,850.1"/>
</g>

<!-- 60_pump.svg -->
<g id="pump">
<path class="kw" d="M201.5,378.7 C201.3,375.7 201.7,374.4 202.8,370.9 C203.9,367.5 205.8,363.2 208.0,358.0 C210.1,352.8 213.6,344.1 215.7,339.8 C217.9,335.5 219.0,334.4 220.9,332.0 C222.9,329.7 225.2,327.2 227.4,325.6 C229.6,323.9 231.9,322.6 233.9,322.3 C235.8,322.0 237.5,322.4 239.1,323.6 C240.7,324.8 242.4,327.1 243.6,329.4 C244.8,331.8 246.1,334.0 246.2,337.9 C246.3,341.8 246.3,345.3 244.3,352.8 C242.2,360.2 236.7,374.6 233.9,382.6 C231.1,390.6 228.7,396.5 227.4,400.7 C226.1,405.0 226.9,406.3 225.9,407.9 C224.8,409.5 222.6,410.4 220.9,410.5 C219.2,410.6 217.7,410.1 215.7,408.5 C213.8,406.9 211.2,404.0 209.3,400.7 C207.3,397.5 205.4,392.7 204.1,389.1 C202.8,385.4 201.7,381.7 201.5,378.7Z"/>
<path class="k" d="M207.3,377.4 C207.6,375.9 208.1,372.0 209.3,368.3 C210.4,364.7 212.6,359.7 214.4,355.4 C216.3,351.1 218.7,345.4 220.3,342.4 C221.9,339.4 222.9,338.4 224.2,337.2 C225.4,336.0 227.1,335.6 227.7,335.3"/>
<path class="k" d="M207.3,377.4 C207.6,378.9 208.3,383.5 209.3,386.5 C210.2,389.5 211.6,392.7 213.1,395.6 C214.7,398.4 216.7,401.7 218.3,403.3 C220.0,405.0 222.1,405.3 222.9,405.7"/>
<path class="k" d="M229.7,325.6 L229.0,335.9 L231.9,339.2 L233.9,329.4"/>
<path class="k" d="M222.2,328.4 L229.7,326.3"/>
<path class="k" d="M202.8,370.9 L209.3,368.3"/>
<path class="k" d="M208.0,358.0 L214.4,355.4"/>
<path class="kw" d="M221.6,347.3 L239.1,335.7 L263.1,349.1 L263.1,364.4 L248.2,370.9 L248.2,402.0 L237.8,403.3 L226.1,402.3 L219.0,399.4 L218.1,390.4 L214.4,382.6 L214.4,364.4Z"/>
<path class="k3" d="M239.1,335.7 L263.1,349.1"/>
<path class="k3" d="M221.6,347.3 L246.9,360.3"/>
<path class="k" d="M221.6,347.3 L221.6,361.9"/>
<path class="k" d="M246.9,360.3 L246.9,370.9"/>
<path class="k" d="M246.9,360.3 L263.1,351.5"/>
<path class="k" d="M233.2,348.9 L238.4,346.6 L258.5,353.4 L252.0,357.3Z"/>
<path class="k" d="M239.1,335.7 L239.1,343.7 L221.6,354.7"/>
<path class="k" d="M221.6,361.9 C220.7,362.9 217.5,365.7 216.4,368.3 C215.2,370.9 214.8,374.2 214.7,377.4 C214.6,380.7 215.0,385.1 215.7,387.8 C216.5,390.5 218.4,392.6 219.0,393.6"/>
<path class="k3" d="M236.7,359.3 C235.7,360.8 231.9,364.9 230.3,368.3 C228.6,371.8 227.5,376.3 227.0,380.0 C226.6,383.7 226.7,386.9 227.7,390.4 C228.6,393.8 232.0,399.0 232.9,400.7"/>
<path class="k" d="M239.3,360.8 C238.3,362.3 234.5,366.4 232.9,369.6 C231.3,372.8 230.2,376.7 229.7,380.0 C229.3,383.4 229.4,386.5 230.3,389.7 C231.2,393.0 234.4,397.8 235.2,399.4"/>
<path class="kw" d="M236.5,386.7 L242.3,387.8 L246.2,393.0 L246.2,401.4 L241.7,404.6"/>
<ellipse class="kw" cx="236.7" cy="395.6" rx="6.7" ry="9.1" transform="rotate(-5.0 236.7 395.6)"/>
<ellipse class="k" cx="237.0" cy="395.8" rx="4.9" ry="7.1" transform="rotate(-5.0 237.0 395.8)"/>
<path class="kw" d="M243.2,370.9 L247.1,369.0 L263.1,364.4 L279.3,381.3 L279.3,426.7 L272.8,439.6 L258.5,427.3 L248.8,422.8 L240.4,413.7 L240.4,405.9 L243.2,401.4Z"/>
<path class="k3" d="M244.3,370.9 L244.3,401.4"/>
<path class="k" d="M247.1,369.0 L257.2,373.8 L257.2,380.7 L272.8,387.8"/>
<path class="k" d="M243.2,370.9 L255.9,377.4 L274.1,386.5"/>
<path class="k" d="M259.2,380.0 L259.2,386.5 L272.8,393.0"/>
<path class="kw" d="M248.8,389.3 C249.5,387.2 250.5,387.4 252.3,387.8 C254.1,388.2 257.9,389.7 259.8,391.7 C261.7,393.6 263.1,394.5 263.7,399.4 C264.3,404.4 264.0,416.9 263.2,421.5 C262.4,426.0 261.0,426.4 258.8,426.7 C256.5,426.9 251.5,427.4 249.7,423.0 C247.9,418.7 248.3,406.4 248.2,400.7 C248.0,395.1 248.1,391.5 248.8,389.3Z"/>
<path class="k" d="M249.2,389.7 L249.2,422.5"/>
<path class="k" d="M265.0,403.3 L270.2,405.9 L270.2,421.5 L265.0,418.9Z"/>
<path class="kw" d="M262.4,372.2 L272.8,367.0 L284.4,359.9 L309.1,367.0 L306.5,372.5 L279.3,381.6Z"/>
<path class="k" d="M247.1,369.0 L262.4,361.9 L272.8,367.0"/>
<path class="k" d="M262.4,361.9 L262.4,372.2"/>
<path class="k3" d="M285.7,348.9 L311.7,361.9"/>
<path class="k" d="M284.4,359.9 L285.7,348.9"/>
<path class="k" d="M309.1,367.0 L311.7,361.9"/>
<path class="k" d="M272.8,367.0 L279.3,381.6"/>
<path class="k" d="M265.0,370.9 L279.3,377.4"/>
<path class="kw" d="M279.3,381.6 C280.7,377.9 284.0,380.0 288.3,378.7 C292.7,377.4 301.3,373.7 305.2,373.5 C309.1,373.3 309.7,375.0 311.7,377.4 C313.6,379.8 315.8,383.9 316.9,387.8 C317.9,391.7 318.8,396.4 318.2,400.7 C317.5,405.1 315.1,409.8 313.0,413.7 C310.8,417.6 308.4,420.6 305.2,424.1 C301.9,427.5 297.0,431.0 293.5,434.4 C290.1,437.9 287.0,442.6 284.4,444.8 C281.9,447.0 279.9,447.8 278.0,447.7 C276.1,447.5 274.1,445.3 273.0,443.8 C272.0,442.2 270.7,441.2 271.5,438.3 C272.3,435.5 276.6,432.9 278.0,426.7 C279.3,420.4 279.3,408.3 279.5,400.7 C279.7,393.2 277.8,385.2 279.3,381.6Z"/>
<path class="k" d="M279.3,381.6 L279.3,393.0"/>
<path class="k" d="M283.2,380.7 L283.2,390.4"/>
<path class="k" d="M281.2,381.0 L281.2,391.7"/>
<path class="k3" d="M272.8,439.6 L278.0,447.7"/>
<path class="k3" d="M259.8,428.6 L272.8,439.6"/>
<ellipse class="kw" cx="298.1" cy="388.0" rx="6.7" ry="9.6" transform="rotate(22.0 298.1 388.0)"/>
<ellipse class="k" cx="298.3" cy="388.0" rx="4.9" ry="7.5" transform="rotate(22.0 298.3 388.0)"/>
<ellipse class="kw" cx="296.8" cy="424.3" rx="6.7" ry="9.6" transform="rotate(22.0 296.8 424.3)"/>
<ellipse class="k" cx="297.0" cy="424.3" rx="4.9" ry="7.5" transform="rotate(22.0 297.0 424.3)"/>
<ellipse class="kw" cx="278.6" cy="394.5" rx="4.3" ry="5.7" transform="rotate(15.0 278.6 394.5)"/>
<ellipse class="k" cx="278.6" cy="394.5" rx="2.5" ry="3.6" transform="rotate(15.0 278.6 394.5)"/>
<ellipse class="kw" cx="280.2" cy="414.0" rx="5.7" ry="7.3" transform="rotate(15.0 280.2 414.0)"/>
<ellipse class="k" cx="280.2" cy="414.0" rx="3.9" ry="5.2" transform="rotate(15.0 280.2 414.0)"/>
<ellipse class="k" cx="280.2" cy="414.0" rx="1.7" ry="2.5" transform="rotate(15.0 280.2 414.0)"/>
<ellipse class="kw" cx="277.6" cy="432.1" rx="4.3" ry="5.4" transform="rotate(15.0 277.6 432.1)"/>
<ellipse class="k" cx="277.6" cy="432.1" rx="2.5" ry="3.4" transform="rotate(15.0 277.6 432.1)"/>
<ellipse class="kf" cx="270.8" cy="360.3" rx="11.9" ry="7.0"/>
<ellipse class="kf" cx="271.7" cy="354.7" rx="8.0" ry="3.9"/>
<ellipse class="kw" cx="272.8" cy="351.7" rx="6.0" ry="2.9"/>
<ellipse class="kw" cx="272.8" cy="347.6" rx="6.0" ry="2.9"/>
<path class="k" d="M266.8,347.6 L266.8,351.7"/>
<path class="k" d="M278.7,347.6 L278.7,351.7"/>
<ellipse class="k" cx="272.8" cy="346.9" rx="3.6" ry="1.6"/>
<path class="k3" d="M261.1,361.2 L263.1,364.4"/>
<path class="k3" d="M281.2,361.2 L284.4,359.9"/>
<ellipse class="kw" cx="320.1" cy="356.9" rx="4.9" ry="7.1" transform="rotate(25.0 320.1 356.9)"/>
<ellipse class="k" cx="320.4" cy="356.7" rx="2.3" ry="4.0" transform="rotate(25.0 320.4 356.7)"/>
<path class="k" d="M314.9,361.2 L311.7,370.9"/>
<path class="k" d="M322.7,363.2 L320.1,368.3"/>
<ellipse class="kw" cx="317.5" cy="373.8" rx="4.3" ry="6.2" transform="rotate(10.0 317.5 373.8)"/>
<ellipse class="k" cx="317.8" cy="373.8" rx="2.1" ry="3.8" transform="rotate(10.0 317.8 373.8)"/>
<path class="kf" d="M320.0,383.0 L322.8,383.5 L322.8,386.6 L320.0,386.1Z"/>
<path class="kf" d="M321.3,389.5 L324.1,390.0 L324.1,393.1 L321.3,392.6Z"/>
<path class="kf" d="M320.6,395.9 L323.5,396.5 L323.5,399.6 L320.6,399.1Z"/>
<path class="k" d="M321.4,402.0 C321.0,403.3 320.1,407.2 318.8,409.8 C317.5,412.4 314.5,416.3 313.6,417.6"/>
<path class="k" d="M314.3,415.3 C314.7,415.7 316.6,416.6 316.9,417.6 C317.1,418.6 316.7,420.4 315.8,421.2 C315.0,422.0 312.8,422.5 311.7,422.5 C310.5,422.5 309.5,421.4 309.1,421.2"/>
<path class="k" d="M309.1,421.2 L313.6,417.6"/>
</g>

<!-- 70_fittings.svg -->
<g id="fittings">
<path class="kw" d="M267,300 L267,314 C268,318 270,321 272,322 L272,325 C274,328 280,328 281.5,325 L281.5,321 C284,319 285,316 285,313 L285,303 Z"/><path class="k" d="M267.5,313 C271,317 281,317 285,312"/><path class="k" d="M269,319 C273,322 280,322 284,318"/><path class="k" d="M272,322 C275,324 279,324 281.5,321.5"/>
<g transform="translate(283.5,301.5) rotate(29.5) scale(1.00)"><path class="kw" d="M-14.0,-8.0 L8.0,-8.0 A3.4,8.0 0 0 1 8.0,8.0 L-14.0,8.0 A3.4,8.0 0 0 1 -14.0,-8.0 Z"/><ellipse class="kw" cx="8.0" cy="0" rx="3.4" ry="8.0"/><ellipse class="k" style="stroke-width:2.4" cx="8" cy="0" rx="2.6" ry="5.6"/><path class="k" style="stroke-width:1.3" d="M-3.0,-8.0 A3.4,8.0 0 0 1 -3.0,8.0"/><path class="k" style="stroke-width:1.3" d="M-9.0,-8.0 A3.4,8.0 0 0 1 -9.0,8.0"/><path class="kf" d="M-16,-2 L-10,-4 L-9,3 L-14,5 Z"/></g>
<g transform="translate(312.5,321.5) rotate(29.5) scale(1.10)"><path class="kw" d="M0.0,-10.5 L10.0,-10.5 A4.4,10.5 0 0 1 10.0,10.5 L0.0,10.5 A4.4,10.5 0 0 1 0.0,-10.5 Z"/><ellipse class="kw" cx="10.0" cy="0" rx="4.4" ry="10.5"/><path class="k" d="M3.8,-5.2 L13.8,-5.2"/><path class="k" d="M3.9,4.7 L13.9,4.7"/><path class="k" d="M-4.4,0 L-3.2,-6.5 M-4.4,0 L-3.2,6.5"/><path class="kf" d="M9.0,-9.0 L17.0,-9.0 A3.8,9.0 0 0 1 17.0,9.0 L9.0,9.0 A3.8,9.0 0 0 1 9.0,-9.0 Z"/><path class="kwl" style="stroke-width:1.2" d="M12.5,-9.0 A3.8,9.0 0 0 1 12.5,9.0"/><path class="kwl" style="stroke-width:1.2" d="M15.0,-9.0 A3.8,9.0 0 0 1 15.0,9.0"/><path class="kw" d="M17.0,-8.2 L33.0,-8.2 A3.4,8.2 0 0 1 33.0,8.2 L17.0,8.2 A3.4,8.2 0 0 1 17.0,-8.2 Z"/><ellipse class="kw" cx="33.0" cy="0" rx="3.4" ry="8.2"/><path class="kf" d="M31.0,-6.4 L41.0,-6.4 A2.7,6.4 0 0 1 41.0,6.4 L31.0,6.4 A2.7,6.4 0 0 1 31.0,-6.4 Z"/></g>
<g transform="translate(359.0,426.0) rotate(27.9) scale(1.10)"><path class="kw" d="M0.0,-10.5 L10.0,-10.5 A4.4,10.5 0 0 1 10.0,10.5 L0.0,10.5 A4.4,10.5 0 0 1 0.0,-10.5 Z"/><ellipse class="kw" cx="10.0" cy="0" rx="4.4" ry="10.5"/><path class="k" d="M3.8,-5.2 L13.8,-5.2"/><path class="k" d="M3.9,4.7 L13.9,4.7"/><path class="k" d="M-4.4,0 L-3.2,-6.5 M-4.4,0 L-3.2,6.5"/><path class="kf" d="M9.0,-9.0 L17.0,-9.0 A3.8,9.0 0 0 1 17.0,9.0 L9.0,9.0 A3.8,9.0 0 0 1 9.0,-9.0 Z"/><path class="kwl" style="stroke-width:1.2" d="M12.5,-9.0 A3.8,9.0 0 0 1 12.5,9.0"/><path class="kwl" style="stroke-width:1.2" d="M15.0,-9.0 A3.8,9.0 0 0 1 15.0,9.0"/><path class="kw" d="M17.0,-8.2 L44.0,-8.2 A3.4,8.2 0 0 1 44.0,8.2 L17.0,8.2 A3.4,8.2 0 0 1 17.0,-8.2 Z"/><ellipse class="kw" cx="44.0" cy="0" rx="3.4" ry="8.2"/><path class="k" d="M19.9,-4.5 L46.9,-4.5"/><path class="k" d="M20.4,-0.4 L47.4,-0.4"/><path class="k" d="M20.0,4.1 L47.0,4.1"/><ellipse class="k" cx="44.0" cy="0" rx="2.2" ry="5.2"/><path class="kf" d="M45.0,-5.6 L52.0,-5.6 A2.4,5.6 0 0 1 52.0,5.6 L45.0,5.6 A2.4,5.6 0 0 1 45.0,-5.6 Z"/></g>
<g transform="translate(376.0,472.5) rotate(27.9) scale(1.10)"><path class="kw" d="M0.0,-10.5 L10.0,-10.5 A4.4,10.5 0 0 1 10.0,10.5 L0.0,10.5 A4.4,10.5 0 0 1 0.0,-10.5 Z"/><ellipse class="kw" cx="10.0" cy="0" rx="4.4" ry="10.5"/><path class="k" d="M3.8,-5.2 L13.8,-5.2"/><path class="k" d="M3.9,4.7 L13.9,4.7"/><path class="k" d="M-4.4,0 L-3.2,-6.5 M-4.4,0 L-3.2,6.5"/><path class="kf" d="M9.0,-9.0 L17.0,-9.0 A3.8,9.0 0 0 1 17.0,9.0 L9.0,9.0 A3.8,9.0 0 0 1 9.0,-9.0 Z"/><path class="kwl" style="stroke-width:1.2" d="M12.5,-9.0 A3.8,9.0 0 0 1 12.5,9.0"/><path class="kwl" style="stroke-width:1.2" d="M15.0,-9.0 A3.8,9.0 0 0 1 15.0,9.0"/><path class="kw" d="M17.0,-8.2 L44.0,-8.2 A3.4,8.2 0 0 1 44.0,8.2 L17.0,8.2 A3.4,8.2 0 0 1 17.0,-8.2 Z"/><ellipse class="kw" cx="44.0" cy="0" rx="3.4" ry="8.2"/><path class="k" d="M19.9,-4.5 L46.9,-4.5"/><path class="k" d="M20.4,-0.4 L47.4,-0.4"/><path class="k" d="M20.0,4.1 L47.0,4.1"/><ellipse class="k" cx="44.0" cy="0" rx="2.2" ry="5.2"/><path class="kf" d="M45.0,-5.6 L52.0,-5.6 A2.4,5.6 0 0 1 52.0,5.6 L45.0,5.6 A2.4,5.6 0 0 1 45.0,-5.6 Z"/></g>
<g transform="translate(328.0,405.5) rotate(27.9) scale(0.98)"><path class="kw" d="M0.0,-7.6 L8.0,-7.6 A3.2,7.6 0 0 1 8.0,7.6 L0.0,7.6 A3.2,7.6 0 0 1 0.0,-7.6 Z"/><path class="k" style="stroke-width:1.2" d="M3.0,-7.6 A3.2,7.6 0 0 1 3.0,7.6"/><path class="kf" d="M8.0,-9.0 L15.0,-9.0 A3.8,9.0 0 0 1 15.0,9.0 L8.0,9.0 A3.8,9.0 0 0 1 8.0,-9.0 Z"/><path class="kwl" style="stroke-width:1.1" d="M11.0,-9.0 A3.8,9.0 0 0 1 11.0,9.0"/><path class="kwl" style="stroke-width:1.1" d="M13.5,-9.0 A3.8,9.0 0 0 1 13.5,9.0"/><path class="kw" d="M15.0,-7.6 L25.0,-7.6 A3.2,7.6 0 0 1 25.0,7.6 L15.0,7.6 A3.2,7.6 0 0 1 15.0,-7.6 Z"/><ellipse class="kw" cx="25.0" cy="0" rx="3.2" ry="7.6"/><ellipse class="k" style="stroke-width:2.6" cx="25" cy="0" rx="2.3" ry="5"/></g>
<g transform="translate(345.5,452.5) rotate(27.9) scale(0.98)"><path class="kw" d="M0.0,-7.6 L8.0,-7.6 A3.2,7.6 0 0 1 8.0,7.6 L0.0,7.6 A3.2,7.6 0 0 1 0.0,-7.6 Z"/><path class="k" style="stroke-width:1.2" d="M3.0,-7.6 A3.2,7.6 0 0 1 3.0,7.6"/><path class="kf" d="M8.0,-9.0 L15.0,-9.0 A3.8,9.0 0 0 1 15.0,9.0 L8.0,9.0 A3.8,9.0 0 0 1 8.0,-9.0 Z"/><path class="kwl" style="stroke-width:1.1" d="M11.0,-9.0 A3.8,9.0 0 0 1 11.0,9.0"/><path class="kwl" style="stroke-width:1.1" d="M13.5,-9.0 A3.8,9.0 0 0 1 13.5,9.0"/><path class="kw" d="M15.0,-7.6 L25.0,-7.6 A3.2,7.6 0 0 1 25.0,7.6 L15.0,7.6 A3.2,7.6 0 0 1 15.0,-7.6 Z"/><ellipse class="kw" cx="25.0" cy="0" rx="3.2" ry="7.6"/><ellipse class="k" style="stroke-width:2.6" cx="25" cy="0" rx="2.3" ry="5"/></g>
<g transform="translate(346.0,794.0) rotate(141.7) scale(1.00)"><path class="kw" d="M-3.0,-9.3 L6.0,-9.3 A3.9,9.3 0 0 1 6.0,9.3 L-3.0,9.3 A3.9,9.3 0 0 1 -3.0,-9.3 Z"/><ellipse class="kw" cx="6.0" cy="0" rx="3.9" ry="9.3"/><path class="k" style="stroke-width:2.6" d="M-1.0,-9.3 A3.9,9.3 0 0 1 -1.0,9.3"/><path class="k" style="stroke-width:2.6" d="M1.8,-9.3 A3.9,9.3 0 0 1 1.8,9.3"/><path class="k" style="stroke-width:2.0" d="M4.4,-9.3 A3.9,9.3 0 0 1 4.4,9.3"/><path class="kw" d="M6.0,-7.3 L23.0,-7.3 A3.1,7.3 0 0 1 23.0,7.3 L6.0,7.3 A3.1,7.3 0 0 1 6.0,-7.3 Z"/><ellipse class="kw" cx="23.0" cy="0" rx="3.1" ry="7.3"/><path class="k" style="stroke-width:2.0" d="M14.0,-7.3 A3.1,7.3 0 0 1 14.0,7.3"/><path class="k" style="stroke-width:2.0" d="M17.0,-7.3 A3.1,7.3 0 0 1 17.0,7.3"/><path class="k" style="stroke-width:2.0" d="M20.0,-7.3 A3.1,7.3 0 0 1 20.0,7.3"/><path class="kw" d="M23.0,-5.8 L35.0,-5.8 A2.4,5.8 0 0 1 35.0,5.8 L23.0,5.8 A2.4,5.8 0 0 1 23.0,-5.8 Z"/><ellipse class="kw" cx="35.0" cy="0" rx="2.4" ry="5.8"/></g>
<g transform="translate(455.0,850.0) rotate(144.8) scale(1.00)"><path class="kw" d="M-3.0,-9.3 L6.0,-9.3 A3.9,9.3 0 0 1 6.0,9.3 L-3.0,9.3 A3.9,9.3 0 0 1 -3.0,-9.3 Z"/><ellipse class="kw" cx="6.0" cy="0" rx="3.9" ry="9.3"/><path class="k" style="stroke-width:2.6" d="M-1.0,-9.3 A3.9,9.3 0 0 1 -1.0,9.3"/><path class="k" style="stroke-width:2.6" d="M1.8,-9.3 A3.9,9.3 0 0 1 1.8,9.3"/><path class="k" style="stroke-width:2.0" d="M4.4,-9.3 A3.9,9.3 0 0 1 4.4,9.3"/><path class="kw" d="M6.0,-7.3 L29.0,-7.3 A3.1,7.3 0 0 1 29.0,7.3 L6.0,7.3 A3.1,7.3 0 0 1 6.0,-7.3 Z"/><ellipse class="kw" cx="29.0" cy="0" rx="3.1" ry="7.3"/><path class="k" style="stroke-width:2.0" d="M20.0,-7.3 A3.1,7.3 0 0 1 20.0,7.3"/><path class="k" style="stroke-width:2.0" d="M23.0,-7.3 A3.1,7.3 0 0 1 23.0,7.3"/><path class="k" style="stroke-width:2.0" d="M26.0,-7.3 A3.1,7.3 0 0 1 26.0,7.3"/><path class="kw" d="M29.0,-5.8 L41.0,-5.8 A2.4,5.8 0 0 1 41.0,5.8 L29.0,5.8 A2.4,5.8 0 0 1 29.0,-5.8 Z"/><ellipse class="kw" cx="41.0" cy="0" rx="2.4" ry="5.8"/></g>
<g transform="translate(288.0,877.0) rotate(144.9) scale(1.00)"><path class="kw" d="M-3.0,-10.0 L8.0,-10.0 A4.2,10.0 0 0 1 8.0,10.0 L-3.0,10.0 A4.2,10.0 0 0 1 -3.0,-10.0 Z"/><ellipse class="kw" cx="8.0" cy="0" rx="4.2" ry="10.0"/><path class="k" style="stroke-width:2.6" d="M-1.0,-10.0 A4.2,10.0 0 0 1 -1.0,10.0"/><path class="k" style="stroke-width:2.6" d="M2.0,-10.0 A4.2,10.0 0 0 1 2.0,10.0"/><path class="k" style="stroke-width:2.2" d="M5.0,-10.0 A4.2,10.0 0 0 1 5.0,10.0"/><path class="kw" d="M8.0,-8.2 L17.0,-8.2 A3.4,8.2 0 0 1 17.0,8.2 L8.0,8.2 A3.4,8.2 0 0 1 8.0,-8.2 Z"/><ellipse class="kw" cx="17.0" cy="0" rx="3.4" ry="8.2"/><path class="kw" d="M17.0,-11.5 L46.0,-11.5 A4.8,11.5 0 0 1 46.0,11.5 L17.0,11.5 A4.8,11.5 0 0 1 17.0,-11.5 Z"/><ellipse class="kw" cx="46.0" cy="0" rx="4.8" ry="11.5"/><path class="k" style="stroke-width:1.7" d="M31.0,-11.5 A4.8,11.5 0 0 1 31.0,11.5"/><path class="k" style="stroke-width:1.7" d="M33.5,-11.5 A4.8,11.5 0 0 1 33.5,11.5"/><path class="k" style="stroke-width:1.7" d="M36.0,-11.5 A4.8,11.5 0 0 1 36.0,11.5"/><path class="k" style="stroke-width:1.7" d="M38.5,-11.5 A4.8,11.5 0 0 1 38.5,11.5"/><path class="k" style="stroke-width:1.7" d="M41.0,-11.5 A4.8,11.5 0 0 1 41.0,11.5"/><path class="k" style="stroke-width:1.7" d="M43.5,-11.5 A4.8,11.5 0 0 1 43.5,11.5"/><path class="k" style="stroke-width:1.5" d="M21.0,-11.5 A4.8,11.5 0 0 1 21.0,11.5"/></g>
<path class="k" style="stroke-width:1.1" d="M295.5,308.3 L308.3,315.5"/>
<path class="g" d="M273.9,326.5 L272.8,343"/>
<path class="g" d="M300,386 L326,401"/><path class="g" d="M306,430 L343,449"/>
<path class="g" d="M354,419 L359,422"/><path class="g" d="M371,466 L376,469"/>
</g>

<!-- 90_labels.svg -->
<g id="labels">
<rect x="59.3" y="372.3" width="52.1" height="32.6" fill="#f0879a" transform="rotate(-1.2 85 388)"/>
<path d="M86.6,279.2 C90,277.6 93.3,275 95.3,272 L97.6,272 L97.6,297.5 L94.8,297.5 L94.8,276.3 C92.6,278.6 89.8,280.4 86.6,281.6 Z" fill="#0c0c0c"/>
<path transform="translate(115.50,566.50) scale(0.01929,-0.01929)" d="M103 0V127Q154 244 227.5 333.5Q301 423 382.0 495.5Q463 568 542.5 630.0Q622 692 686.0 754.0Q750 816 789.5 884.0Q829 952 829 1038Q829 1154 761.0 1218.0Q693 1282 572 1282Q457 1282 382.5 1219.5Q308 1157 295 1044L111 1061Q131 1230 254.5 1330.0Q378 1430 572 1430Q785 1430 899.5 1329.5Q1014 1229 1014 1044Q1014 962 976.5 881.0Q939 800 865.0 719.0Q791 638 582 468Q467 374 399.0 298.5Q331 223 301 153H1036V0Z" fill="#0c0c0c" stroke="#fff" stroke-width="6.2"/>
<path transform="translate(131.00,606.00) scale(0.01929,-0.01929)" d="M103 0V127Q154 244 227.5 333.5Q301 423 382.0 495.5Q463 568 542.5 630.0Q622 692 686.0 754.0Q750 816 789.5 884.0Q829 952 829 1038Q829 1154 761.0 1218.0Q693 1282 572 1282Q457 1282 382.5 1219.5Q308 1157 295 1044L111 1061Q131 1230 254.5 1330.0Q378 1430 572 1430Q785 1430 899.5 1329.5Q1014 1229 1014 1044Q1014 962 976.5 881.0Q939 800 865.0 719.0Q791 638 582 468Q467 374 399.0 298.5Q331 223 301 153H1036V0Z" fill="#0c0c0c" stroke="#fff" stroke-width="6.2"/>
<path transform="translate(262.50,707.00) scale(0.01929,-0.01929)" d="M881 319V0H711V319H47V459L692 1409H881V461H1079V319ZM711 1206Q709 1200 683.0 1153.0Q657 1106 644 1087L283 555L229 481L213 461H711Z" fill="#0c0c0c" stroke="#fff" stroke-width="6.2"/>
<path transform="translate(193.50,799.00) scale(0.01929,-0.01929)" d="M1053 459Q1053 236 920.5 108.0Q788 -20 553 -20Q356 -20 235.0 66.0Q114 152 82 315L264 336Q321 127 557 127Q702 127 784.0 214.5Q866 302 866 455Q866 588 783.5 670.0Q701 752 561 752Q488 752 425.0 729.0Q362 706 299 651H123L170 1409H971V1256H334L307 809Q424 899 598 899Q806 899 929.5 777.0Q1053 655 1053 459Z" fill="#0c0c0c" stroke="#fff" stroke-width="6.2"/>
<path transform="translate(578.50,918.00) scale(0.01929,-0.01929)" d="M1049 461Q1049 238 928.0 109.0Q807 -20 594 -20Q356 -20 230.0 157.0Q104 334 104 672Q104 1038 235.0 1234.0Q366 1430 608 1430Q927 1430 1010 1143L838 1112Q785 1284 606 1284Q452 1284 367.5 1140.5Q283 997 283 725Q332 816 421.0 863.5Q510 911 625 911Q820 911 934.5 789.0Q1049 667 1049 461ZM866 453Q866 606 791.0 689.0Q716 772 582 772Q456 772 378.5 698.5Q301 625 301 496Q301 333 381.5 229.0Q462 125 588 125Q718 125 792.0 212.5Q866 300 866 453Z" fill="#0c0c0c" stroke="#fff" stroke-width="6.2"/>
<path transform="translate(7.80,401.00) scale(0.01929,-0.01929)" d="M1049 389Q1049 194 925.0 87.0Q801 -20 571 -20Q357 -20 229.5 76.5Q102 173 78 362L264 379Q300 129 571 129Q707 129 784.5 196.0Q862 263 862 395Q862 510 773.5 574.5Q685 639 518 639H416V795H514Q662 795 743.5 859.5Q825 924 825 1038Q825 1151 758.5 1216.5Q692 1282 561 1282Q442 1282 368.5 1221.0Q295 1160 283 1049L102 1063Q122 1236 245.5 1333.0Q369 1430 563 1430Q775 1430 892.5 1331.5Q1010 1233 1010 1057Q1010 922 934.5 837.5Q859 753 715 723V719Q873 702 961.0 613.0Q1049 524 1049 389Z" fill="#0c0c0c" stroke="#fff" stroke-width="6.2"/>
<path transform="translate(39.50,401.00) scale(0.01929,-0.01929)" d="M91 464V624H591V464Z" fill="#0c0c0c" stroke="#fff" stroke-width="6.2"/>
<path transform="translate(62.80,401.00) scale(0.01929,-0.01929)" d="M1049 389Q1049 194 925.0 87.0Q801 -20 571 -20Q357 -20 229.5 76.5Q102 173 78 362L264 379Q300 129 571 129Q707 129 784.5 196.0Q862 263 862 395Q862 510 773.5 574.5Q685 639 518 639H416V795H514Q662 795 743.5 859.5Q825 924 825 1038Q825 1151 758.5 1216.5Q692 1282 561 1282Q442 1282 368.5 1221.0Q295 1160 283 1049L102 1063Q122 1236 245.5 1333.0Q369 1430 563 1430Q775 1430 892.5 1331.5Q1010 1233 1010 1057Q1010 922 934.5 837.5Q859 753 715 723V719Q873 702 961.0 613.0Q1049 524 1049 389Z" fill="#7c1226" stroke="#f0879a" stroke-width="6.2"/>
<path transform="translate(84.77,401.00) scale(0.01929,-0.01929)" d="M1167 0 1006 412H364L202 0H4L579 1409H796L1362 0ZM685 1265 676 1237Q651 1154 602 1024L422 561H949L768 1026Q740 1095 712 1182Z" fill="#7c1226" stroke="#f0879a" stroke-width="6.2"/>
<path class="l" d="M109.0,288.5 L265.0,288.7"/>
<path fill="#111" d="M269.0,288.7 L260.0,290.6 L260.0,286.8 Z"/>
<path class="l" d="M111.0,378.7 L196.0,378.7"/>
<path fill="#111" d="M200.0,378.7 L191.0,380.6 L191.0,376.8 Z"/>
<path class="l" d="M142.5,552.5 L335.6,425.0"/>
<path fill="#111" d="M338.9,422.8 L332.4,429.3 L330.3,426.2 Z"/>
<path class="l" d="M157.5,581.0 L349.8,470.9"/>
<path fill="#111" d="M353.3,468.9 L346.4,475.0 L344.5,471.7 Z"/>
<path class="l" d="M288.7,703.0 L379.0,754.0"/>
<path fill="#111" d="M382.5,756.0 L373.7,753.2 L375.6,749.9 Z"/>
<path class="l" d="M219.0,801.0 L308.5,851.7"/>
<path fill="#111" d="M312.0,853.7 L303.2,850.9 L305.1,847.6 Z"/>
<path class="l" d="M571.0,890.0 L484.5,840.7"/>
<path fill="#111" d="M481.0,838.7 L489.8,841.5 L487.9,844.8 Z"/>
</g>

</svg>
</body></html>
